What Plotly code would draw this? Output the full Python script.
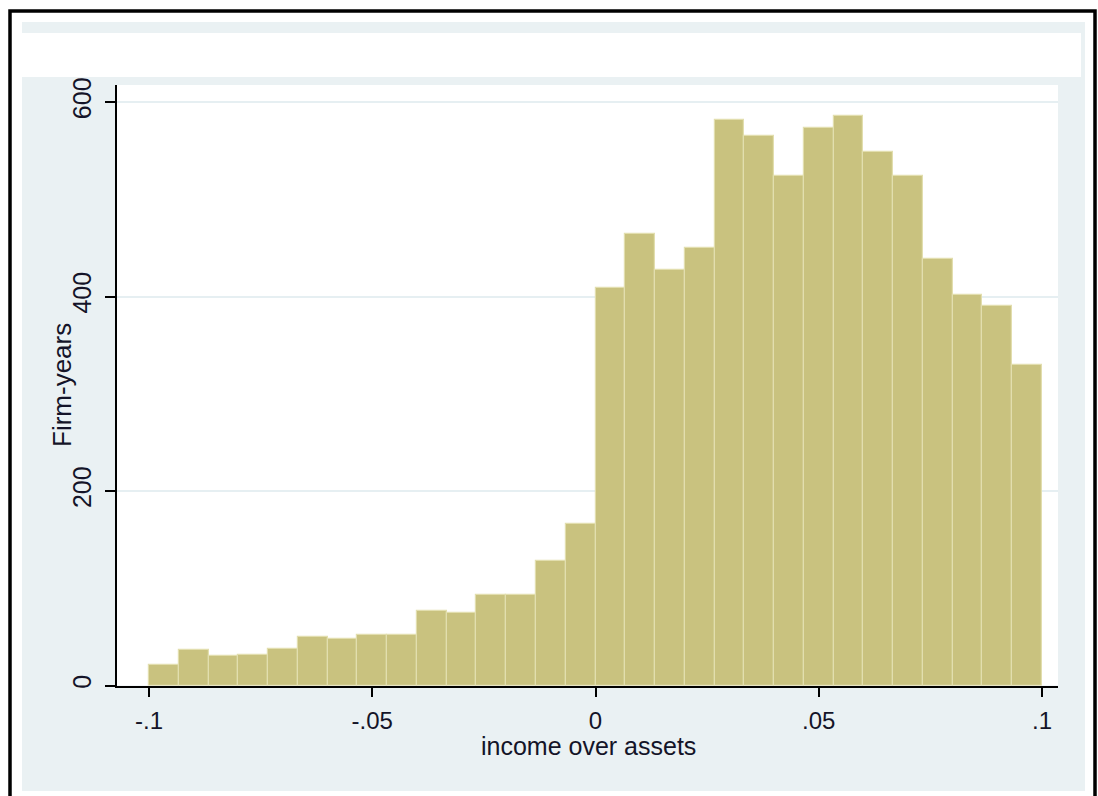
import numpy as np
import plotly.graph_objects as go

# ---- data ----
bin_start = -0.1
bin_end = 0.1
counts = [21, 36, 30, 31, 38, 50, 48, 52, 52, 77, 75, 93, 93, 128, 166,
          409, 464, 427, 450, 582, 565, 524, 573, 586, 549, 524, 439, 402, 390, 330]
x_tickvals = [-0.1, -0.05, 0, 0.05, 0.1]
x_ticktext = ["-.1", "-.05", "0", ".05", ".1"]
y_tickvals = [0, 200, 400, 600]
y_ticktext = ["0", "200", "400", "600"]
x_title = "income over assets"
y_title = "Firm-years"

W, H = 1098, 796
n = len(counts)
bw = (bin_end - bin_start) / n
centers = bin_start + bw * (np.arange(n) + 0.5)

BG = "#eaf1f3"
BAR = "#c9c27f"
BAR_EDGE = "#e2deae"
FONT = "Liberation Sans, Arial, sans-serif"
TXT = "#141428"

fig = go.Figure()
fig.add_trace(go.Bar(
    x=centers, y=counts, width=bw,
    marker=dict(color=BAR, line=dict(color=BAR_EDGE, width=1.2)),
    hoverinfo="x+y",
))

def px(x):
    return x / W

def py(y):
    return 1 - y / H

shapes = [
    dict(type="rect", xref="paper", yref="paper", x0=px(22), x1=px(1085), y0=py(791), y1=py(22),
         fillcolor=BG, line=dict(width=0), layer="below"),
    dict(type="rect", xref="paper", yref="paper", x0=px(22), x1=px(1081), y0=py(77), y1=py(33),
         fillcolor="white", line=dict(width=0), layer="below"),
    dict(type="rect", xref="paper", yref="paper", x0=px(117), x1=px(1058), y0=py(685.5), y1=py(85),
         fillcolor="white", line=dict(width=0), layer="below"),
    dict(type="rect", xref="paper", yref="paper", x0=px(10), x1=px(1095), y0=py(805), y1=py(11),
         fillcolor="rgba(0,0,0,0)", line=dict(color="black", width=3.5), layer="above"),
]

annotations = [
    dict(text=x_title, xref="paper", yref="paper", x=px(588), y=py(731),
         xanchor="center", yanchor="top", showarrow=False, borderpad=0,
         font=dict(family=FONT, size=25, color=TXT)),
    dict(text=y_title, xref="paper", yref="paper", x=px(62), y=py(385),
         xanchor="center", yanchor="middle", showarrow=False, textangle=-90,
         font=dict(family=FONT, size=26, color=TXT)),
]

fig.update_layout(
    width=W, height=H,
    margin=dict(l=0, r=0, t=0, b=0),
    paper_bgcolor="white",
    plot_bgcolor="white",
    showlegend=False,
    bargap=0,
    shapes=shapes,
    annotations=annotations,
    font=dict(family=FONT, color=TXT, size=24),
    xaxis=dict(
        domain=[117 / W, 1058 / W],
        range=[-0.1 - 32 / 4465, 0.1 + 16 / 4465],
        tickvals=x_tickvals, ticktext=x_ticktext,
        ticks="outside", ticklen=10, tickwidth=1.5, tickcolor="black",
        showline=True, linecolor="black", linewidth=1.5,
        showgrid=False, zeroline=False, automargin=False,
        tickfont=dict(family=FONT, size=24, color=TXT),
        ticklabelstandoff=3,
    ),
    yaxis=dict(
        domain=[1 - 685.5 / H, 1 - 85 / H],
        range=[0, 617.5],
        tickvals=y_tickvals, ticktext=y_ticktext, tickangle=-90,
        ticks="outside", ticklen=10, tickwidth=1.5, tickcolor="black",
        showline=True, linecolor="black", linewidth=1.5,
        showgrid=True, gridcolor="#e6eff2", gridwidth=1.5,
        zeroline=False, automargin=False,
        tickfont=dict(family=FONT, size=25, color=TXT),
        ticklabelstandoff=4,
    ),
)

fig.write_html("out.html")
